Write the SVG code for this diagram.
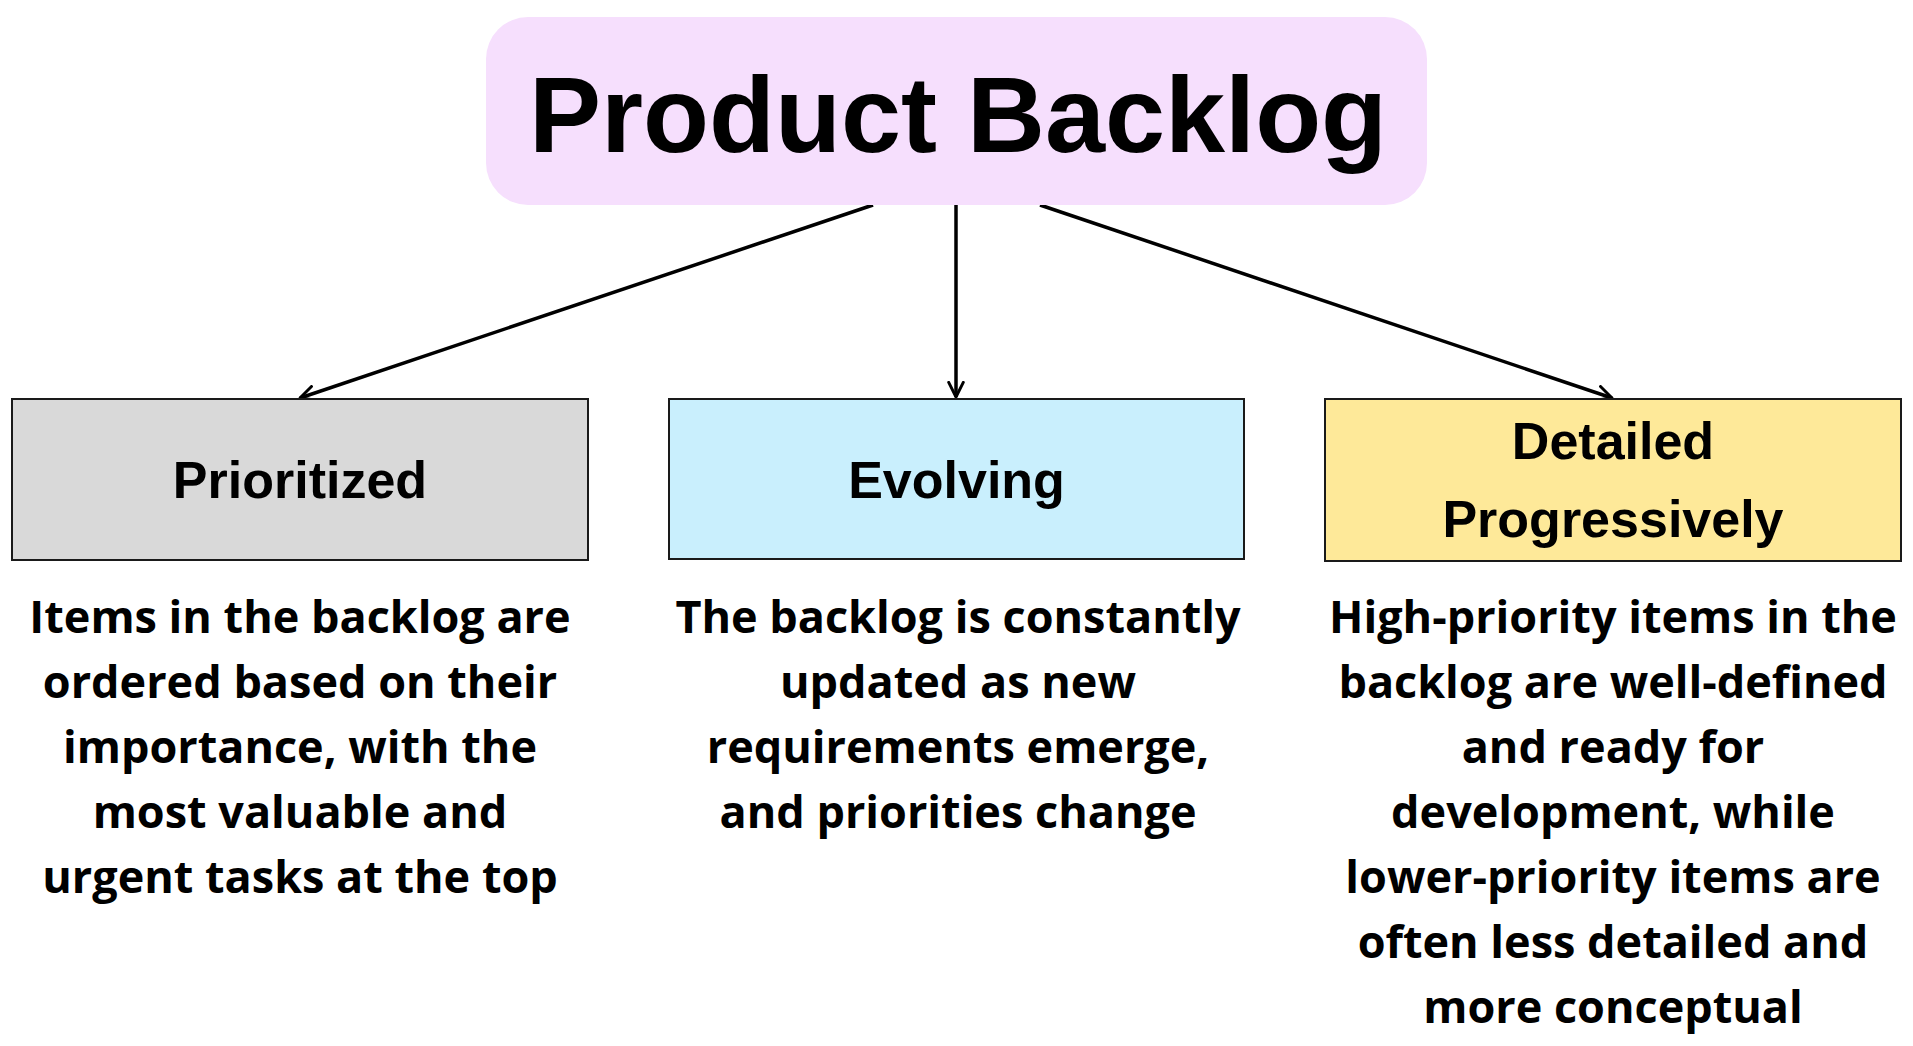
<svg xmlns="http://www.w3.org/2000/svg" width="1913" height="1046" viewBox="0 0 1913 1046">
<defs>
<style>
.title{font-family:"Liberation Sans",Arial,sans-serif;font-weight:700;font-size:108px;fill:#000;text-anchor:middle}
.lbl{font-family:"Liberation Sans",Arial,sans-serif;font-weight:700;font-size:52px;fill:#000;text-anchor:middle}
.desc{font-family:"Open Sans","Liberation Sans",sans-serif;font-weight:700;font-size:45px;fill:#000;text-anchor:middle}
.box{stroke:#1a1a1a;stroke-width:2}
.conn{stroke:#000;stroke-width:3.5;fill:none;marker-end:url(#arr)}
</style>
<marker id="arr" viewBox="0 0 12 12" refX="11" refY="6" markerWidth="5" markerHeight="5" orient="auto" markerUnits="strokeWidth">
<path d="M1,1 L11,6 L1,11" fill="none" stroke="#000" stroke-width="2" stroke-linecap="round" stroke-linejoin="round"/>
</marker>
</defs>
<rect width="1913" height="1046" fill="#fff"/>
<g id="connectors">
<line class="conn" x1="873" y1="205" x2="300" y2="398"/>
<line class="conn" x1="956" y1="205" x2="956" y2="397"/>
<line class="conn" x1="1040" y1="205" x2="1612" y2="398"/>
</g>
<g id="node-product-backlog">
<rect x="486" y="17" width="941" height="188" rx="42" ry="42" fill="#f6dffd"/>
<text class="title" x="958" y="152">Product Backlog</text>
</g>
<g id="node-prioritized">
<rect class="box" x="12" y="399" width="576" height="161" fill="#d9d9d9"/>
<text class="lbl" x="300" y="498">Prioritized</text>
<text class="desc" x="300" y="633">Items in the backlog are</text>
<text class="desc" x="300" y="698">ordered based on their</text>
<text class="desc" x="300" y="763">importance, with the</text>
<text class="desc" x="300" y="828">most valuable and</text>
<text class="desc" x="300" y="893">urgent tasks at the top</text>
</g>
<g id="node-evolving">
<rect class="box" x="669" y="399" width="575" height="160" fill="#c9effd"/>
<text class="lbl" x="956.5" y="498">Evolving</text>
<text class="desc" x="958" y="633">The backlog is constantly</text>
<text class="desc" x="958" y="698">updated as new</text>
<text class="desc" x="958" y="763">requirements emerge,</text>
<text class="desc" x="958" y="828">and priorities change</text>
</g>
<g id="node-detailed-progressively">
<rect class="box" x="1325" y="399" width="576" height="162" fill="#fee999"/>
<text class="lbl" x="1613" y="459">Detailed</text>
<text class="lbl" x="1613" y="537">Progressively</text>
<text class="desc" x="1613" y="633">High-priority items in the</text>
<text class="desc" x="1613" y="698">backlog are well-defined</text>
<text class="desc" x="1613" y="763">and ready for</text>
<text class="desc" x="1613" y="828">development, while</text>
<text class="desc" x="1613" y="893">lower-priority items are</text>
<text class="desc" x="1613" y="958">often less detailed and</text>
<text class="desc" x="1613" y="1023">more conceptual</text>
</g>
</svg>
